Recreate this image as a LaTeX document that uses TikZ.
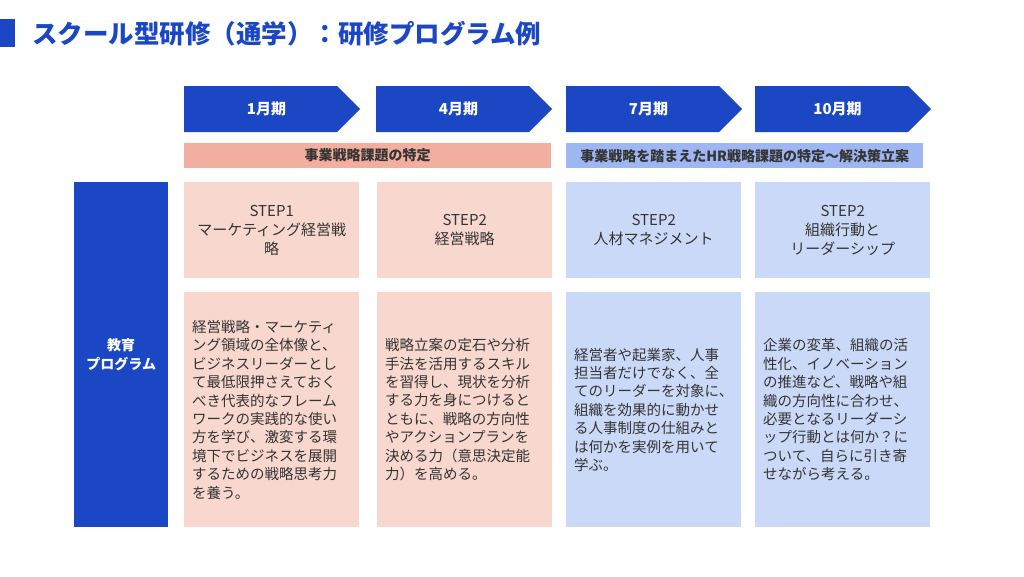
\documentclass[tikz,border=0pt]{standalone}
\usepackage{fontspec}
\setmainfont{Noto Sans CJK JP}
\usetikzlibrary{positioning,shapes.symbols}

\definecolor{progblue}{RGB}{27,71,196}
\definecolor{salmonband}{RGB}{242,174,158}
\definecolor{salmonbox}{RGB}{248,215,206}
\definecolor{skyband}{RGB}{158,182,241}
\definecolor{skybox}{RGB}{203,217,248}
\definecolor{inkgray}{RGB}{52,52,52}

\begin{document}
\begin{tikzpicture}[
  x=1pt,y=-1pt,
  chevron/.style={signal,signal to=east,signal pointer angle=90,fill=progblue,
    minimum width=176pt,minimum height=46pt,inner sep=0pt,
    execute at begin node=\hspace*{12pt},
    text=white,font=\fontsize{15}{18}\selectfont\bfseries},
  band/.style={rectangle,anchor=north west,minimum height=25pt,inner sep=0pt,
    text=inkgray,font=\fontsize{14}{16}\selectfont\bfseries},
  stepbox/.style={rectangle,anchor=north west,text width=159pt,inner xsep=8pt,
    minimum height=96pt,align=center,text=inkgray,
    font=\fontsize{15}{19}\selectfont},
  bodybox/.style={rectangle,anchor=north west,text width=159pt,inner xsep=8pt,
    minimum height=235pt,align=left,text=inkgray,
    font=\fontsize{14.5}{18.4}\selectfont}
]
\fill[white] (0,0) rectangle (1024,576);
\useasboundingbox (0,0) rectangle (1024,576);

% title
\node[rectangle,fill=progblue,anchor=north west,minimum width=15pt,minimum height=28pt,inner sep=0pt] (titlemark) at (0,19) {};
\node[anchor=west,inner sep=0pt,text=progblue,font=\fontsize{25.5}{28}\selectfont\bfseries] (title) at (32,34) {スクール型研修（通学）：研修プログラム例};

% terms (centre = middle of the body, the point sticks out 23pt)
\node[chevron] (jan) at (260.5,109) {1月期};
\node[chevron] (apr) at (452.5,109) {4月期};
\node[chevron] (jul) at (642.5,109) {7月期};
\node[chevron] (oct) at (831.5,109) {10月期};

\node[band,fill=salmonband,minimum width=367pt] (bizband) at (184,143) {事業戦略課題の特定};
\node[band,fill=skyband,minimum width=357pt] (hrband) at (566,143) {事業戦略を踏まえたHR戦略課題の特定〜解決策立案};

% program
\node[rectangle,fill=progblue,anchor=north west,minimum width=94pt,minimum height=345pt,
  align=center,text=white,font=\fontsize{14}{18}\selectfont\bfseries] (program) at (74,182) {教育\\プログラム};

\node[stepbox,fill=salmonbox] (step1) at (184,182) {STEP1\\マーケティング経営戦\\略};
\node[stepbox,fill=salmonbox] (step2a) at (377,182) {STEP2\\経営戦略};
\node[stepbox,fill=skybox] (step2b) at (566,182) {STEP2\\人材マネジメント};
\node[stepbox,fill=skybox] (step2c) at (755,182) {STEP2\\組織行動と\\リーダーシップ};

\node[bodybox,fill=salmonbox] (body1) at (184,292) {経営戦略・マーケティ\\ング領域の全体像と、\\ビジネスリーダーとし\\て最低限押さえておく\\べき代表的なフレーム\\ワークの実践的な使い\\方を学び、激変する環\\境下でビジネスを展開\\するための戦略思考力\\を養う。};
\node[bodybox,fill=salmonbox] (body2) at (377,292) {戦略立案の定石や分析\\手法を活用するスキル\\を習得し、現状を分析\\する力を身につけると\\ともに、戦略の方向性\\やアクションプランを\\決める力（意思決定能\\力）を高める。};
\node[bodybox,fill=skybox] (body3) at (566,292) {経営者や起業家、人事\\担当者だけでなく、全\\てのリーダーを対象に、\\組織を効果的に動かせ\\る人事制度の仕組みと\\は何かを実例を用いて\\学ぶ。};
\node[bodybox,fill=skybox] (body4) at (755,292) {企業の変革、組織の活\\性化、イノベーション\\の推進など、戦略や組\\織の方向性に合わせ、\\必要となるリーダーシ\\ップ行動とは何か？に\\ついて、自らに引き寄\\せながら考える。};
\end{tikzpicture}
\end{document}
